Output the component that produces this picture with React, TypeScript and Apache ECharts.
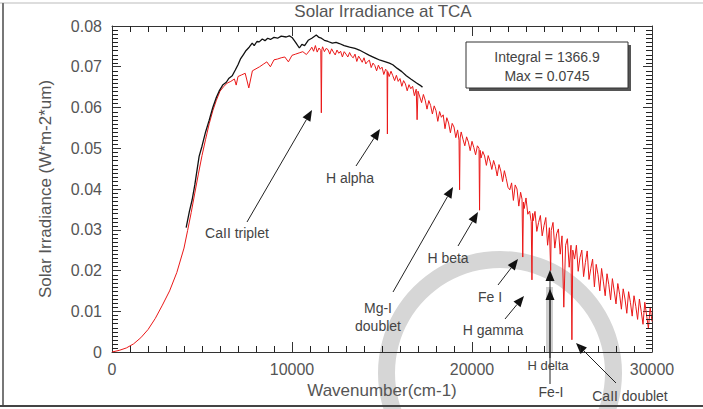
import { useEffect, useRef } from "react";
import * as echarts from "echarts";

const TITLE = "Solar Irradiance at TCA";
const X_NAME = "Wavenumber(cm-1)";
const Y_NAME = "Solar Irradiance (W*m-2*um)";
const X_MIN = 0;
const X_MAX = 30000;
const X_STEP = 10000;
const X_MINOR_PER_MAJOR = 10;
const Y_MIN = 0;
const Y_MAX = 0.08;
const Y_STEP = 0.01;
const Y_MINOR_PER_MAJOR = 10;
const yTickLabels = ["0", "0.01", "0.02", "0.03", "0.04", "0.05", "0.06", "0.07", "0.08"];
const xTickLabels = ["0", "10000", "20000", "30000"];
const boxLines = ["Integral = 1366.9", "Max = 0.0745"];

// high-resolution model spectrum (red)
const redRising: [number, number][] = [
  [0, 0], [400, 0.0004], [800, 0.001], [1200, 0.002], [1600, 0.0035], [2000, 0.0055],
  [2400, 0.0082], [2800, 0.0115], [3200, 0.015], [3600, 0.0195], [4000, 0.0255],
  [4200, 0.0298], [4400, 0.0342], [4600, 0.039], [4800, 0.0437], [5000, 0.0482],
  [5200, 0.0522], [5400, 0.056], [5600, 0.0592], [5800, 0.0618], [6000, 0.064],
  [6200, 0.0651], [6400, 0.066], [6600, 0.0664], [6800, 0.067], [6900, 0.0655], [7000, 0.0676],
  [7200, 0.068], [7400, 0.0684], [7600, 0.0648], [7800, 0.069], [8000, 0.0695],
  [8200, 0.07], [8400, 0.0706], [8600, 0.0712], [8800, 0.07], [9000, 0.0717],
  [9200, 0.0719], [9400, 0.0722], [9600, 0.0724], [9800, 0.0712], [10000, 0.0728],
  [10200, 0.0731], [10400, 0.0734], [10600, 0.0737], [10800, 0.073], [11000, 0.0741],
];
const redPlateau: [number, number][] = [
  [11100, 0.0748], [11200, 0.0738], [11300, 0.0752], [11400, 0.0736], [11500, 0.0746],
  [11600, 0.074], [11630, 0.0587], [11660, 0.0742], [11700, 0.0749], [11800, 0.0737],
  [11900, 0.0745], [12000, 0.0742], [12100, 0.0731], [12200, 0.0744], [12300, 0.0736],
  [12400, 0.0729], [12500, 0.0741], [12600, 0.0733], [12700, 0.0738], [12800, 0.0724],
  [12900, 0.0737], [13000, 0.0731], [13100, 0.0724], [13200, 0.0735], [13300, 0.0726],
  [13400, 0.0722], [13500, 0.0731], [13600, 0.0713], [13700, 0.0726], [13800, 0.0719],
  [13900, 0.0711], [14000, 0.0722], [14100, 0.0707], [14200, 0.0713], [14300, 0.0716],
  [14400, 0.0698], [14500, 0.0709], [14600, 0.0703], [14700, 0.069], [14800, 0.0704],
  [14900, 0.0694], [15000, 0.0699], [15100, 0.0681], [15200, 0.0694], [15280, 0.069],
  [15300, 0.0535], [15320, 0.0688], [15400, 0.0676], [15500, 0.0689], [15600, 0.0678],
  [15700, 0.0666], [15800, 0.0679], [15900, 0.0664], [16000, 0.0671], [16100, 0.0652],
  [16200, 0.0666], [16300, 0.0658], [16400, 0.0641], [16500, 0.0656], [16600, 0.0646],
  [16700, 0.0652], [16800, 0.0629], [16900, 0.0645], [16950, 0.057], [17000, 0.064],
  [17100, 0.0626], [17200, 0.0612], [17300, 0.0632], [17400, 0.0618], [17500, 0.0596],
  [17600, 0.0617], [17700, 0.0605], [17800, 0.0584], [17900, 0.0604], [18000, 0.0592],
  [18100, 0.0566], [18200, 0.059], [18300, 0.0576], [18400, 0.0582], [18500, 0.0548],
  [18600, 0.0575], [18700, 0.0562], [18800, 0.0538], [18900, 0.0561], [19000, 0.0552],
  [19100, 0.0526], [19200, 0.0545], [19280, 0.052], [19310, 0.0398], [19340, 0.0525],
  [19400, 0.054], [19500, 0.0522], [19600, 0.0506], [19700, 0.0528], [19800, 0.0515],
  [19900, 0.0494], [20000, 0.0517], [20100, 0.0502], [20200, 0.0484], [20300, 0.0506],
  [20390, 0.05], [20420, 0.0348], [20450, 0.0495], [20500, 0.0476], [20600, 0.0492],
  [20700, 0.0481], [20800, 0.0458], [20900, 0.0482], [21000, 0.0468], [21100, 0.0448],
  [21200, 0.047], [21300, 0.0455], [21400, 0.0432], [21500, 0.046], [21600, 0.0444],
  [21700, 0.0418], [21800, 0.0445], [21900, 0.0426], [22000, 0.0404],
];
const redTail: [number, number][] = [
  [22100, 0.0398], [22200, 0.0415], [22300, 0.0372], [22400, 0.041], [22500, 0.04],
  [22600, 0.0358], [22700, 0.0392], [22780, 0.0375], [22820, 0.0233], [22860, 0.0368],
  [22900, 0.0352], [23000, 0.0378], [23100, 0.0338], [23200, 0.0346], [23290, 0.032],
  [23330, 0.0177], [23370, 0.034], [23400, 0.0322], [23500, 0.0345], [23600, 0.0296],
  [23700, 0.0318], [23800, 0.0335], [23900, 0.0285], [24000, 0.031], [24100, 0.033],
  [24200, 0.0262], [24300, 0.0305], [24370, 0.02], [24400, 0.0298], [24500, 0.0318],
  [24600, 0.0255], [24700, 0.029], [24800, 0.0302], [24900, 0.024], [25000, 0.0285],
  [25100, 0.011], [25200, 0.0262], [25300, 0.0278], [25400, 0.0208], [25500, 0.0262],
  [25550, 0.003], [25600, 0.025], [25700, 0.0228], [25800, 0.0262], [25900, 0.0198],
  [26000, 0.0232], [26100, 0.025], [26200, 0.0185], [26300, 0.022], [26400, 0.0248],
  [26500, 0.0178], [26600, 0.0205], [26700, 0.0228], [26800, 0.016], [26900, 0.0215],
  [27000, 0.019], [27100, 0.015], [27200, 0.0205], [27300, 0.0172], [27400, 0.0138],
  [27500, 0.0192], [27600, 0.0165], [27700, 0.0128], [27800, 0.018], [27900, 0.015],
  [28000, 0.0118], [28100, 0.0168], [28200, 0.0142], [28300, 0.0105], [28400, 0.0155],
  [28500, 0.013], [28600, 0.0095], [28700, 0.0148], [28800, 0.0122], [28900, 0.0088],
  [29000, 0.0138], [29100, 0.0112], [29200, 0.008], [29300, 0.013], [29400, 0.01],
  [29500, 0.0068], [29600, 0.0122], [29700, 0.009], [29800, 0.0058], [29900, 0.011],
  [30000, 0.0075],
];

// measured spectrum (black)
const blackSpectrum: [number, number][] = [
  [4120, 0.0305], [4300, 0.0345], [4450, 0.0373], [4600, 0.041], [4840, 0.048],
  [5000, 0.0505], [5200, 0.054], [5400, 0.0569], [5600, 0.06], [5800, 0.0625],
  [5950, 0.064], [6150, 0.0655], [6350, 0.0662], [6500, 0.0672], [6680, 0.0678],
  [6850, 0.0692], [7000, 0.0705], [7150, 0.072], [7300, 0.073], [7450, 0.074],
  [7620, 0.0748], [7790, 0.0758], [7900, 0.0752], [8050, 0.0762], [8180, 0.0761],
  [8350, 0.0768], [8500, 0.0764], [8650, 0.077], [8800, 0.0767], [9000, 0.0772],
  [9200, 0.077], [9400, 0.0775], [9680, 0.0773], [9850, 0.0776], [10020, 0.0771],
  [10200, 0.076], [10410, 0.0746], [10550, 0.0755], [10700, 0.0752], [10900, 0.0765],
  [11100, 0.077], [11350, 0.0778], [11500, 0.0772], [11630, 0.077], [11800, 0.0765],
  [12000, 0.0762], [12240, 0.0758], [12450, 0.076], [12630, 0.0757], [12900, 0.0752],
  [13200, 0.0748], [13500, 0.0745], [13740, 0.0741], [14000, 0.0735], [14300, 0.0728],
  [14600, 0.0722], [14900, 0.0716], [15200, 0.0712], [15410, 0.0709], [15600, 0.0705],
  [15850, 0.0696], [16100, 0.0688], [16350, 0.0678], [16600, 0.067], [16920, 0.066],
  [17100, 0.0655], [17250, 0.065],
];

// annotation labels: text, centre position, and arrow [tailX, tailY, tipX, tipY]
const lineLabels: { text: string; x: number; y: number; arrow?: number[] }[] = [
  { text: "CaII triplet", x: 237, y: 233, arrow: [247, 222, 312, 110] },
  { text: "H alpha", x: 350, y: 178, arrow: [356, 166, 380, 129] },
  { text: "Mg-I", x: 378, y: 308, arrow: [393, 292, 453, 187] },
  { text: "doublet", x: 378, y: 326 },
  { text: "H beta", x: 448, y: 258, arrow: [458, 246, 478, 212] },
  { text: "Fe I", x: 490, y: 297, arrow: [498, 285, 518, 259] },
  { text: "H gamma", x: 493, y: 330, arrow: [505, 319, 524, 296] },
  { text: "H delta", x: 548, y: 365, arrow: [550, 358, 550, 270] },
  { text: "Fe-I", x: 551, y: 392, arrow: [550, 384, 550, 289] },
  { text: "CaII doublet", x: 630, y: 396, arrow: [616, 383, 576, 343] },
];

const FONT = "'Liberation Sans', Arial, sans-serif";
const TEXT = "#555";
const AXIS = "#333";
const W = 703;
const H = 409;
const GRID = { left: 112, right: 51, top: 26, bottom: 57 };

function arrowElements(a: number[]) {
  const [x1, y1, x2, y2] = a;
  const dx = x2 - x1;
  const dy = y2 - y1;
  const len = Math.sqrt(dx * dx + dy * dy);
  const ux = dx / len;
  const uy = dy / len;
  const L = 11;
  const HW = 4.5;
  const bx = x2 - ux * L;
  const by = y2 - uy * L;
  return [
    {
      type: "line",
      shape: { x1, y1, x2: bx, y2: by },
      style: { stroke: "#222", lineWidth: 1 },
      z: 10,
    },
    {
      type: "polygon",
      shape: {
        points: [
          [x2, y2],
          [bx - uy * HW, by + ux * HW],
          [bx + uy * HW, by - ux * HW],
        ],
      },
      style: { fill: "#111" },
      z: 10,
    },
  ];
}

export default function App() {
  const ref = useRef<HTMLDivElement>(null);
  useEffect(() => {
    if (!ref.current) return;
    const chart = echarts.init(ref.current, null, { renderer: "svg" });

    const graphics: any[] = [
      { type: "ring", shape: { cx: 500, cy: 373, r: 122, r0: 105 }, style: { fill: "#d6d6d6" }, z: -5 },
      { type: "rect", shape: { x: 546, y: 287, width: 7, height: 66 }, style: { fill: "#cfcfcf" }, z: -5 },
      { type: "line", shape: { x1: 0, y1: 3, x2: W, y2: 3 }, style: { stroke: "#bbb", lineWidth: 1 } },
      { type: "line", shape: { x1: 3, y1: 3, x2: 3, y2: 406 }, style: { stroke: "#777", lineWidth: 2 } },
      { type: "line", shape: { x1: 0, y1: 406, x2: W, y2: 406 }, style: { stroke: "#444", lineWidth: 2 } },
      { type: "rect", shape: { x: 469, y: 45, width: 162, height: 46 }, style: { fill: "#555" }, z: 10 },
      { type: "rect", shape: { x: 466, y: 42, width: 162, height: 46 }, style: { fill: "#fff", stroke: "#333", lineWidth: 1 }, z: 11 },
      {
        type: "text", x: 547, y: 57, z: 12,
        style: { text: boxLines[0], fontSize: 14, fontFamily: FONT, fill: "#444", align: "center", verticalAlign: "middle" },
      },
      {
        type: "text", x: 547, y: 76, z: 12,
        style: { text: boxLines[1], fontSize: 14, fontFamily: FONT, fill: "#444", align: "center", verticalAlign: "middle" },
      },
    ];
    lineLabels.forEach((l) => {
      graphics.push({
        type: "text", x: l.x, y: l.y, z: 11,
        style: {
          text: l.text, fontSize: l.text === "H delta" ? 13 : 14, fontFamily: FONT, fill: "#444",
          align: "center", verticalAlign: "middle",
        },
      });
      if (l.arrow) graphics.push(...arrowElements(l.arrow));
    });

    // minor tick marks along the frame of the plot area
    const left = GRID.left;
    const right = W - GRID.right;
    const top = GRID.top;
    const bottom = H - GRID.bottom;
    const tickStyle = { stroke: "#222", lineWidth: 1 };
    const nX = ((X_MAX - X_MIN) / X_STEP) * X_MINOR_PER_MAJOR;
    for (let i = 1; i < nX; i++) {
      if (i % X_MINOR_PER_MAJOR === 0) continue;
      const x = Math.round(left + ((right - left) * i) / nX) + 0.5;
      graphics.push({ type: "line", shape: { x1: x, y1: bottom, x2: x, y2: bottom - 6 }, style: tickStyle, z: 20 });
      graphics.push({ type: "line", shape: { x1: x, y1: top, x2: x, y2: top + 6 }, style: tickStyle, z: 20 });
    }
    const nY = Math.round(((Y_MAX - Y_MIN) / Y_STEP) * Y_MINOR_PER_MAJOR);
    for (let i = 1; i < nY; i++) {
      if (i % Y_MINOR_PER_MAJOR === 0) continue;
      const y = Math.round(bottom - ((bottom - top) * i) / nY) + 0.5;
      graphics.push({ type: "line", shape: { x1: left, y1: y, x2: left + 6, y2: y }, style: tickStyle, z: 20 });
      graphics.push({ type: "line", shape: { x1: right, y1: y, x2: right - 6, y2: y }, style: tickStyle, z: 20 });
    }

    const xAxisBase = {
      type: "value",
      min: X_MIN,
      max: X_MAX,
      interval: X_STEP,
      splitLine: { show: false },
      axisLine: { show: true, onZero: false, lineStyle: { color: AXIS, width: 1 } },
      axisTick: { show: true, inside: true, length: 10, lineStyle: { color: AXIS } },
    };
    const yAxisBase = {
      type: "value",
      min: Y_MIN,
      max: Y_MAX,
      interval: Y_STEP,
      splitLine: { show: false },
      axisLine: { show: true, onZero: false, lineStyle: { color: AXIS, width: 1 } },
      axisTick: { show: true, inside: true, length: 9, lineStyle: { color: AXIS } },
    };

    chart.setOption({
      animation: false,
      backgroundColor: "#fff",
      title: {
        text: TITLE,
        left: 383,
        top: 3,
        textAlign: "center",
        padding: 0,
        textStyle: { fontSize: 17, fontWeight: "normal", color: TEXT, fontFamily: FONT },
      },
      grid: { ...GRID, containLabel: false },
      xAxis: [
        {
          ...xAxisBase,
          position: "bottom",
          name: X_NAME,
          nameLocation: "middle",
          nameGap: 27,
          nameTextStyle: { fontSize: 17, color: TEXT, fontFamily: FONT },
          axisLabel: {
            fontSize: 16,
            color: TEXT,
            fontFamily: FONT,
            margin: 9,
            formatter: (v: number) => xTickLabels[Math.round(v / X_STEP)] ?? "",
          },
        },
        { ...xAxisBase, position: "top", axisLabel: { show: false } },
      ],
      yAxis: [
        {
          ...yAxisBase,
          position: "left",
          name: Y_NAME,
          nameLocation: "middle",
          nameGap: 58,
          nameTextStyle: { fontSize: 17, color: TEXT, fontFamily: FONT },
          axisLabel: {
            fontSize: 16,
            color: TEXT,
            fontFamily: FONT,
            margin: 10,
            formatter: (v: number) => yTickLabels[Math.round(v / Y_STEP)] ?? "",
          },
        },
        { ...yAxisBase, position: "right", axisLabel: { show: false } },
      ],
      series: [
        {
          type: "line",
          name: "model",
          data: [...redRising, ...redPlateau, ...redTail],
          xAxisIndex: 0,
          yAxisIndex: 0,
          showSymbol: false,
          symbol: "none",
          lineStyle: { color: "#ea1818", width: 1 },
          itemStyle: { color: "#ea1818" },
          z: 3,
        },
        {
          type: "line",
          name: "measured",
          data: blackSpectrum,
          xAxisIndex: 0,
          yAxisIndex: 0,
          showSymbol: false,
          symbol: "none",
          lineStyle: { color: "#111", width: 1.3 },
          itemStyle: { color: "#111" },
          z: 4,
        },
      ],
      graphic: graphics,
    });
    return () => chart.dispose();
  }, []);
  return (
    <div
      ref={ref}
      style={{ position: "fixed", left: 0, top: 0, width: W, height: H, background: "#fff" }}
    />
  );
}
